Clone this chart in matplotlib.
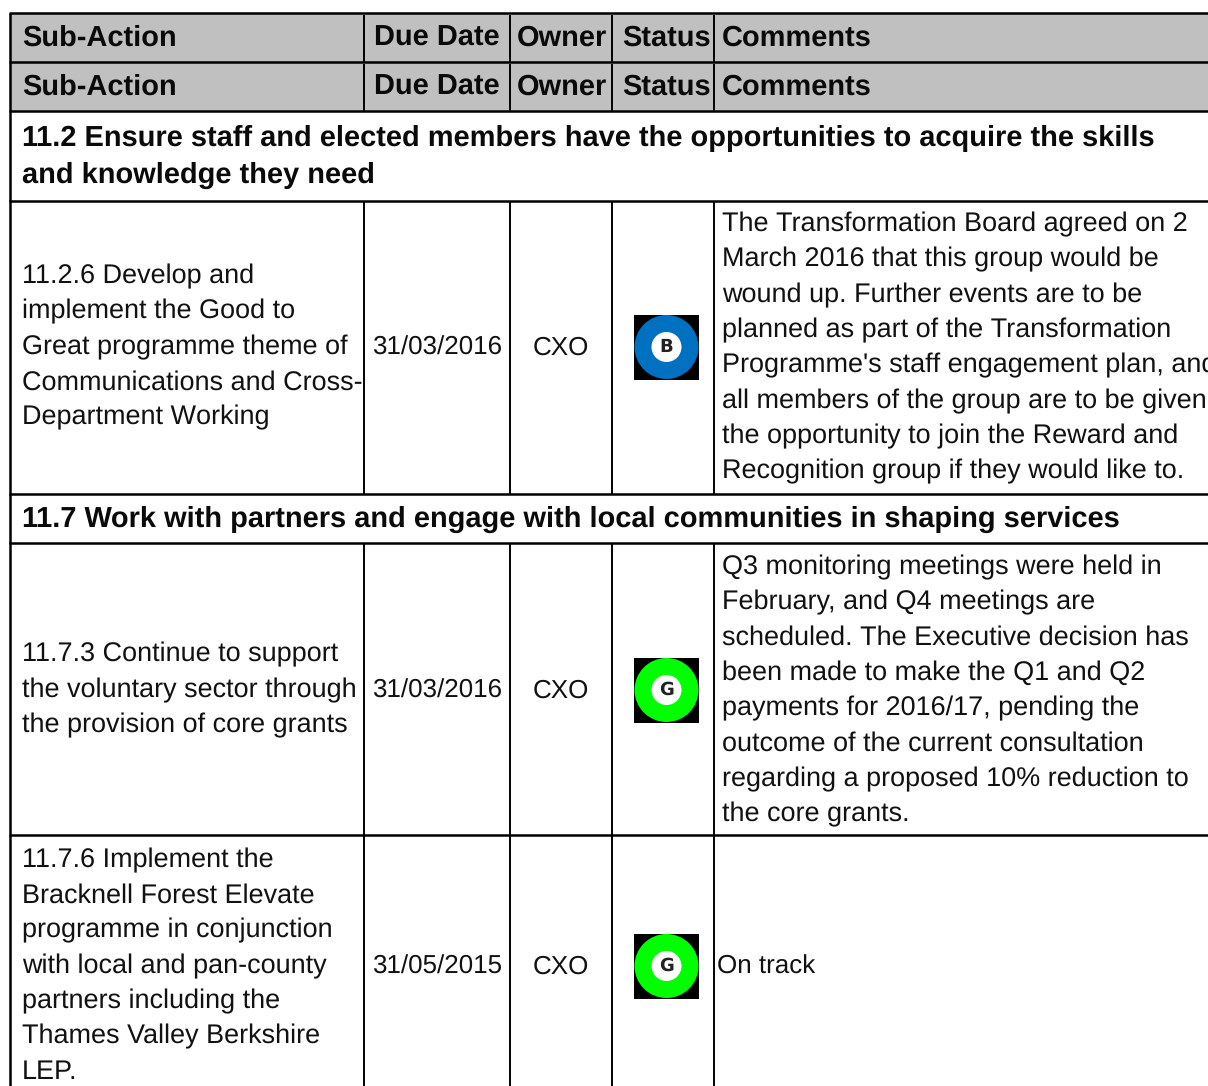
import matplotlib.pyplot as plt
from matplotlib.patches import Rectangle, Circle

plt.rcParams['font.family'] = ['Liberation Sans', 'DejaVu Sans']
plt.rcParams['text.hinting'] = 'no_hinting'
plt.rcParams['text.hinting_factor'] = 1

# table contents
header = ['Sub-Action', 'Due Date', 'Owner', 'Status', 'Comments']
section_1 = ['11.2 Ensure staff and elected members have the opportunities to acquire the skills',
             'and knowledge they need']
section_2 = ['11.7 Work with partners and engage with local communities in shaping services']

actions = [['11.2.6 Develop and', 'implement the Good to', 'Great programme theme of',
            'Communications and Cross-', 'Department Working'],
           ['11.7.3 Continue to support', 'the voluntary sector through', 'the provision of core grants'],
           ['11.7.6 Implement the', 'Bracknell Forest Elevate', 'programme in conjunction',
            'with local and pan-county', 'partners including the', 'Thames Valley Berkshire', 'LEP.']]
due_dates = ['31/03/2016', '31/03/2016', '31/05/2015']
owners = ['CXO', 'CXO', 'CXO']
status = ['B', 'G', 'G']
comments = [['The Transformation Board agreed on 2', 'March 2016 that this group would be',
             'wound up. Further events are to be', 'planned as part of the Transformation',
             "Programme's staff engagement plan, and", 'all members of the group are to be given',
             'the opportunity to join the Reward and', 'Recognition group if they would like to.'],
            ['Q3 monitoring meetings were held in', 'February, and Q4 meetings are',
             'scheduled. The Executive decision has', 'been made to make the Q1 and Q2',
             'payments for 2016/17, pending the', 'outcome of the current consultation',
             'regarding a proposed 10% reduction to', 'the core grants.'],
            ['On track']]

status_colors = {'B': '#0070c0', 'G': '#00ff00'}

# layout in pixels
W, H = 1208, 1086
col_x = [10, 364, 510, 612, 714]
head_text_x = [22, 374, 517, 622, 722]
row_top = [201, 543, 835]
row_bot = [494, 835, 1086]
row_mid = [346, 689, 965]
line_h = 35.3
fs_date = 18.7
fs_left = 19.1
fs_comment = 19.2
fs_head = 20.8
fs_section = 21.05

fig = plt.figure(figsize=(W / 100, H / 100), dpi=100)
ax = fig.add_axes([0, 0, 1, 1])
ax.set_xlim(0, W)
ax.set_ylim(H, 0)
ax.axis('off')

# header bands
for top, bot, y in [(13, 62, 46), (62, 111, 95)]:
    ax.add_patch(Rectangle((10, top), W - 10, bot - top, fc='#c0c0c0', ec='none', zorder=0))
    for x, t in zip(head_text_x, header):
        ax.text(x, y, t, fontsize=fs_head, fontweight='bold', va='baseline', ha='left', color='#0a0a0a')

# grid lines
ax.hlines([13, 62, 111, 201, 494, 543, 835], 9, W, color='black', lw=1.8, zorder=2)
ax.vlines(col_x[0], 13, H, color='black', lw=1.8, zorder=2)
for x in col_x[1:]:
    ax.vlines(x, 15, 62, color='black', lw=1.4, zorder=2)
    ax.vlines(x, 64, 112, color='black', lw=1.4, zorder=2)
    for top, bot in zip(row_top, row_bot):
        ax.vlines(x, top, bot, color='black', lw=1.4, zorder=2)

# section rows
for i, t in enumerate(section_1):
    ax.text(22, 146 + i * 37, t, fontsize=fs_section, fontweight='bold', va='baseline', color='#0a0a0a')
ax.text(22, 527, section_2[0], fontsize=fs_section, fontweight='bold', va='baseline', color='#0a0a0a')

# body rows
for i in range(3):
    base = row_mid[i] + 9
    n = len(actions[i])
    for j, t in enumerate(actions[i]):
        ax.text(22, base - 1 + (j - (n - 1) / 2) * line_h, t, fontsize=fs_left, va='baseline', color='#111111')
    ax.text(437, base, due_dates[i], fontsize=fs_date, va='baseline', ha='center', color='#111111')
    ax.text(561, base, owners[i], fontsize=fs_date, va='baseline', ha='center', color='#111111')

    # status icon
    cx, cy = 666.5, row_mid[i] + 1
    ax.add_patch(Rectangle((cx - 32.5, cy - 32.5), 65, 65, fc='black', ec='none', zorder=3))
    ax.add_patch(Circle((cx, cy), 32, fc=status_colors[status[i]], ec='none', zorder=4))
    ax.add_patch(Circle((cx, cy), 15, fc='white', ec='none', zorder=5))
    ax.text(cx, cy, status[i], fontsize=13, fontweight='bold', family='DejaVu Sans',
            va='center', ha='center', color='#222222', zorder=6)

    n = len(comments[i])
    x = 722 if n > 1 else 717
    for j, t in enumerate(comments[i]):
        ax.text(x, base + (j - (n - 1) / 2) * line_h, t, fontsize=fs_comment if n > 1 else fs_date,
                va='baseline', color='#111111')

plt.savefig('out.png', dpi=100)
plt.close()
